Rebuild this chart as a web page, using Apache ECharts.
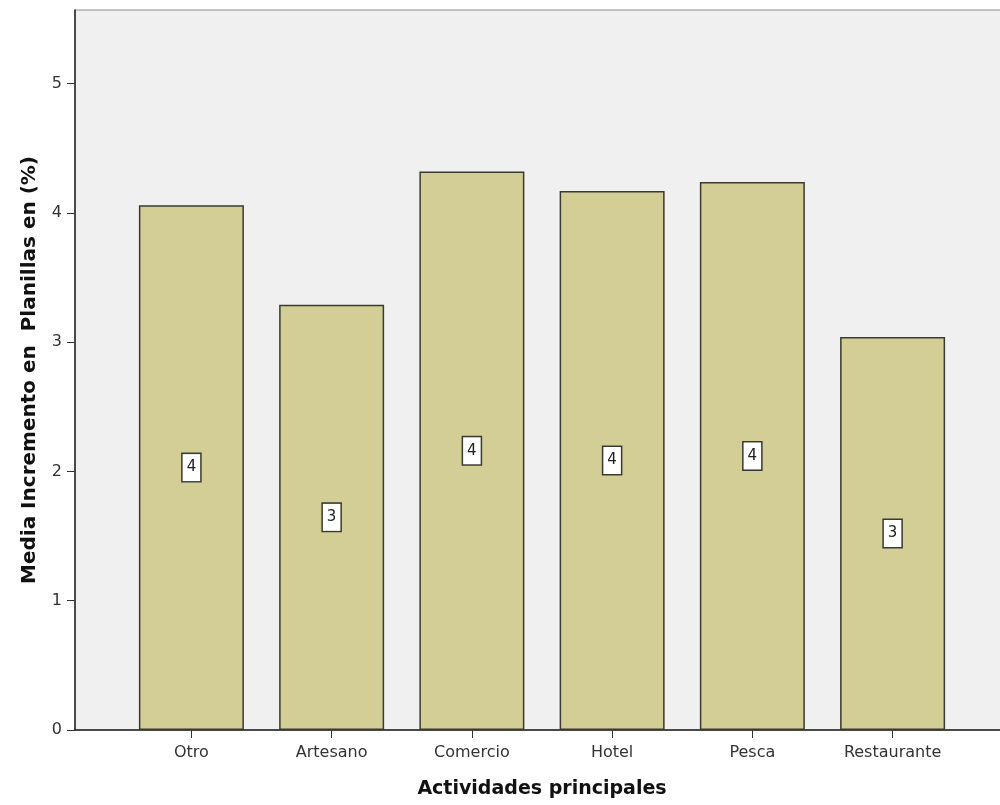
<!DOCTYPE html>
<html>
<head>
<meta charset="utf-8">
<title>Media Incremento en Planillas por actividad</title>
<script src="https://cdn.jsdelivr.net/npm/echarts@6/dist/echarts.min.js"></script>
<style>
  html, body { margin: 0; padding: 0; background: #ffffff; }
  #chart { width: 1000px; height: 805px; }
</style>
</head>
<body>
<div id="chart"></div>
<script>
// Activities and mean increment in payroll (%)
const categories = ['Otro', 'Artesano', 'Comercio', 'Hotel', 'Pesca', 'Restaurante'];
const meanValues = [4.06, 3.29, 4.32, 4.17, 4.24, 3.04];
const yTicks = [0, 1, 2, 3, 4, 5];

const positions = categories.map((_, i) => i);
const barData = meanValues.map((v, i) => [positions[i], v]);

const fontFamily = '"DejaVu Sans", "Liberation Sans", Arial, sans-serif';

const chart = echarts.init(document.getElementById('chart'), null, { renderer: 'canvas' });

chart.setOption({
  backgroundColor: '#ffffff',
  animation: false,
  grid: {
    left: 75,
    top: 10,
    width: 934,
    height: 720,
    outerBoundsMode: 'none',
    show: true,
    backgroundColor: '#f0f0f0',
    borderColor: '#8c8c8c',
    borderWidth: 1
  },
  xAxis: {
    type: 'value',
    min: -0.83,
    max: 5.83,
    name: 'Actividades principales',
    nameLocation: 'middle',
    nameGap: 50,
    nameTextStyle: { fontFamily, fontWeight: 'bold', fontSize: 19, color: '#111' },
    axisLine: { show: true, onZero: false, lineStyle: { color: '#222', width: 1.5 } },
    axisTick: { show: true, length: 8, customValues: positions, lineStyle: { color: '#333', width: 1 } },
    axisLabel: {
      customValues: positions,
      margin: 15,
      fontFamily,
      fontSize: 16,
      color: '#333',
      formatter: (v) => categories[Math.round(v)] ?? ''
    },
    splitLine: { show: false }
  },
  yAxis: {
    type: 'value',
    min: 0,
    max: 5.57,
    name: 'Media Incremento en  Planillas en (%)',
    nameLocation: 'middle',
    nameGap: 35,
    nameTextStyle: { fontFamily, fontWeight: 'bold', fontSize: 20, color: '#111' },
    axisLine: { show: true, onZero: false, lineStyle: { color: '#222', width: 1.5 } },
    axisTick: { show: true, length: 8, customValues: yTicks, lineStyle: { color: '#333', width: 1 } },
    axisLabel: {
      customValues: yTicks,
      margin: 13,
      fontFamily,
      fontSize: 16,
      color: '#333'
    },
    splitLine: { show: false }
  },
  series: [{
    type: 'bar',
    data: barData,
    barWidth: 105,
    itemStyle: {
      color: '#d2ce96',
      borderColor: '#3a3a30',
      borderWidth: 1.5
    },
    label: {
      show: true,
      position: 'inside',
      formatter: (p) => String(Math.round(p.value[1])),
      fontFamily,
      fontSize: 15,
      color: '#222',
      backgroundColor: '#ffffff',
      borderColor: '#3a3a30',
      borderWidth: 1.5,
      padding: [6, 4]
    }
  }]
});
</script>
</body>
</html>
